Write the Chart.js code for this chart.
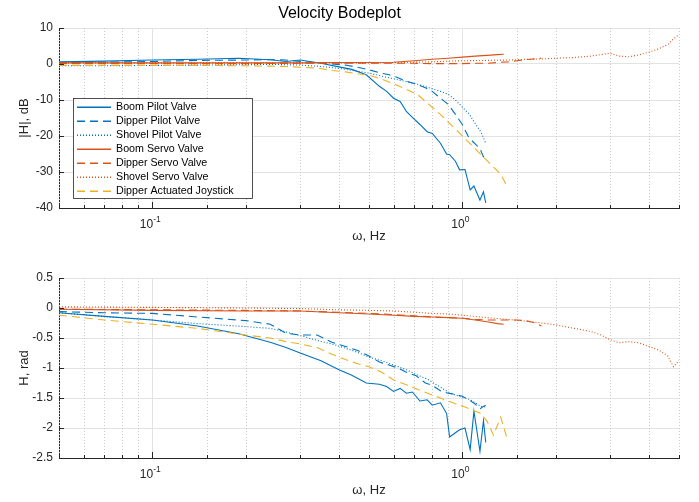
<!DOCTYPE html>
<html>
<head>
<meta charset="utf-8">
<script src="https://cdn.jsdelivr.net/npm/chart.js@4.4.1/dist/chart.umd.min.js"></script>
<style>
  body { margin: 0; background: #fff; }
  canvas { display: block; }
</style>
</head>
<body>
<canvas id="mag" width="699" height="250"></canvas>
<canvas id="phase" width="699" height="252"></canvas>
<script>
// ---- data (frequency in Hz, magnitude in dB, phase in rad) ----
const seriesLabels = ['Boom Pilot Valve', 'Dipper Pilot Valve', 'Shovel Pilot Valve',
  'Boom Servo Valve', 'Dipper Servo Valve', 'Shovel Servo Valve', 'Dipper Actuated Joystick'];

const boomPilotFreq = [0.05, 0.07, 0.1, 0.14, 0.19, 0.24, 0.27, 0.3, 0.35, 0.4, 0.44, 0.49, 0.54, 0.57, 0.6, 0.63, 0.66, 0.69, 0.73, 0.77, 0.8, 0.85, 0.89, 0.91, 0.95, 0.98, 1.02, 1.06, 1.09, 1.14, 1.17, 1.19];
const boomPilotMag = [0.6, 0.8, 1.1, 1.3, 1.6, 1.2, 0.7, 1.1, 0.2, -0.8, -1.5, -3.0, -6.2, -7.6, -9.5, -10.4, -13.2, -14.8, -16.8, -18.8, -19.3, -22.0, -25.0, -25.2, -27.0, -29.4, -29.3, -35.0, -33.9, -37.8, -35.5, -38.6];
const boomPilotPhase = [-0.08, -0.14, -0.2, -0.3, -0.43, -0.57, -0.66, -0.75, -0.88, -1.03, -1.12, -1.25, -1.27, -1.31, -1.39, -1.34, -1.42, -1.40, -1.55, -1.53, -1.62, -1.58, -1.76, -2.15, -2.08, -2.03, -2.0, -2.36, -1.72, -2.39, -1.88, -2.24];

const dipperPilotFreq = [0.05, 0.07, 0.1, 0.14, 0.2, 0.24, 0.27, 0.3, 0.34, 0.38, 0.42, 0.46, 0.5, 0.54, 0.58, 0.62, 0.66, 0.71, 0.76, 0.8, 0.85, 0.9, 0.95, 1.0, 1.05, 1.1, 1.14, 1.17, 1.19];
const dipperPilotMag = [0.4, 0.5, 0.7, 1.0, 1.1, 1.2, 1.1, 0.7, 0.3, 0.0, -0.3, -0.9, -1.6, -2.4, -3.0, -3.8, -4.8, -5.6, -6.6, -7.6, -9.5, -11.2, -14.0, -16.8, -20.5, -22.2, -23.5, -25.8, -25.3];
const dipperPilotPhase = [-0.06, -0.08, -0.09, -0.15, -0.21, -0.27, -0.42, -0.45, -0.45, -0.57, -0.64, -0.71, -0.8, -0.9, -0.95, -1.0, -1.07, -1.13, -1.25, -1.29, -1.38, -1.42, -1.44, -1.47, -1.53, -1.6, -1.68, -1.64, -1.62];

const shovelPilotFreq = [0.05, 0.07, 0.1, 0.14, 0.2, 0.24, 0.27, 0.3, 0.34, 0.38, 0.42, 0.46, 0.5, 0.55, 0.6, 0.66, 0.72, 0.78, 0.85, 0.9, 0.95, 1.0, 1.05, 1.1, 1.15, 1.19];
const shovelPilotMag = [-0.5, -0.5, -0.4, -0.3, -0.2, -0.1, -0.2, -0.3, -0.6, -1.0, -1.5, -2.0, -2.5, -3.4, -4.1, -4.9, -5.7, -6.6, -7.6, -8.4, -10.0, -12.0, -13.8, -16.5, -19.0, -22.0];
const shovelPilotPhase = [-0.08, -0.14, -0.2, -0.26, -0.31, -0.34, -0.4, -0.46, -0.54, -0.6, -0.67, -0.74, -0.82, -0.88, -0.95, -1.03, -1.12, -1.2, -1.32, -1.4, -1.45, -1.49, -1.52, -1.58, -1.64, -1.65];

const boomServoFreq = [0.05, 0.1, 0.2, 0.3, 0.4, 0.5, 0.6, 0.7, 0.8, 0.9, 1.0, 1.1, 1.2, 1.3, 1.36];
const boomServoMag = [0.3, 0.3, 0.3, 0.3, 0.4, 0.4, 0.5, 0.9, 1.3, 1.6, 1.9, 2.2, 2.4, 2.6, 2.7];
const boomServoPhase = [-0.02, -0.04, -0.05, -0.05, -0.08, -0.1, -0.12, -0.14, -0.15, -0.16, -0.17, -0.2, -0.23, -0.26, -0.27];

const dipperServoFreq = [0.05, 0.1, 0.2, 0.3, 0.4, 0.5, 0.6, 0.7, 0.8, 0.9, 1.0, 1.1, 1.2, 1.3, 1.4, 1.5, 1.6, 1.7, 1.8];
const dipperServoMag = [0.1, 0.1, 0.1, 0.2, 0.2, 0.2, 0.2, 0.2, 0.1, 0.1, 0.1, 0.2, 0.2, 0.4, 0.6, 0.9, 1.2, 1.4, 1.6];
const dipperServoPhase = [-0.02, -0.03, -0.04, -0.05, -0.07, -0.09, -0.11, -0.13, -0.15, -0.16, -0.17, -0.19, -0.2, -0.2, -0.2, -0.2, -0.21, -0.24, -0.3];

const shovelServoFreq = [0.05, 0.1, 0.2, 0.3, 0.4, 0.5, 0.6, 0.7, 0.8, 0.9, 1.0, 1.2, 1.4, 1.6, 1.8, 2.0, 2.3, 2.6, 2.8, 3.0, 3.2, 3.45, 3.7, 4.0, 4.3, 4.6, 4.8, 5.0];
const shovelServoMag = [0.3, 0.3, 0.3, 0.3, 0.3, 0.3, 0.4, 0.5, 0.6, 0.8, 0.9, 1.0, 1.1, 1.3, 1.4, 1.6, 1.8, 2.2, 2.6, 3.0, 2.2, 2.0, 2.5, 3.3, 4.2, 5.4, 7.0, 8.2];
const shovelServoPhase = [0.02, 0.01, 0.0, -0.01, -0.03, -0.04, -0.05, -0.07, -0.09, -0.1, -0.12, -0.16, -0.19, -0.22, -0.25, -0.28, -0.34, -0.39, -0.45, -0.53, -0.58, -0.56, -0.58, -0.64, -0.7, -0.8, -0.98, -0.87];

const joystickFreq = [0.05, 0.07, 0.1, 0.14, 0.2, 0.24, 0.27, 0.3, 0.34, 0.38, 0.42, 0.46, 0.5, 0.55, 0.6, 0.66, 0.72, 0.78, 0.85, 0.91, 0.97, 1.02, 1.08, 1.14, 1.2, 1.26, 1.33, 1.39];
const joystickMag = [-0.4, -0.4, -0.4, -0.4, -0.5, -0.6, -0.7, -0.9, -1.1, -1.8, -2.2, -2.7, -3.1, -4.2, -5.5, -7.0, -8.6, -11.2, -14.0, -16.5, -18.8, -20.8, -22.8, -24.9, -26.8, -28.6, -30.6, -33.8];
const joystickPhase = [-0.12, -0.2, -0.27, -0.34, -0.45, -0.5, -0.56, -0.6, -0.66, -0.77, -0.86, -0.93, -0.98, -1.07, -1.2, -1.28, -1.36, -1.43, -1.5, -1.56, -1.61, -1.65, -1.7, -1.75, -1.88, -2.12, -1.82, -2.15];

// axis ticks
const freqRange = [0.05, 5];
const magTicks = [10, 0, -10, -20, -30, -40];
const phaseTicks = [0.5, 0, -0.5, -1, -1.5, -2, -2.5];
const decadeTicks = [0.1, 1];
const decadeExponents = ['-1', '0'];

// ---- styling ----
const BLUE = '#0072BD', RED = '#D95319', YELLOW = '#EDB120';
const AXIS = '#262626', GRID = '#e3e3e3', MINOR = '#c9c9c9';
const FONT = "'Liberation Sans', Arial, Helvetica, sans-serif";
const DASH = [8, 5], DOT = [1, 2];
const seriesStyles = [
  {color: BLUE, dash: []}, {color: BLUE, dash: DASH}, {color: BLUE, dash: DOT},
  {color: RED, dash: []}, {color: RED, dash: DASH}, {color: RED, dash: DOT},
  {color: YELLOW, dash: DASH}
];

const freqs = [boomPilotFreq, dipperPilotFreq, shovelPilotFreq, boomServoFreq, dipperServoFreq, shovelServoFreq, joystickFreq];
const mags = [boomPilotMag, dipperPilotMag, shovelPilotMag, boomServoMag, dipperServoMag, shovelServoMag, joystickMag];
const phases = [boomPilotPhase, dipperPilotPhase, shovelPilotPhase, boomServoPhase, dipperServoPhase, shovelServoPhase, joystickPhase];

Chart.defaults.font.family = FONT;
Chart.defaults.color = AXIS;

function isDecade(v) {
  const l = Math.log10(v);
  return Math.abs(l - Math.round(l)) < 1e-6;
}

function buildDatasets(values) {
  return seriesLabels.map((label, i) => ({
    label: label,
    data: freqs[i].map((f, k) => ({x: f, y: values[i][k]})),
    borderColor: seriesStyles[i].color,
    borderDash: seriesStyles[i].dash,
    borderWidth: 1.1,
    pointRadius: 0,
    tension: 0,
    fill: false,
    order: seriesLabels.length - i
  }));
}

// MATLAB-like axes: dotted minor grid, inward ticks, 10^n labels
const matlabAxes = {
  id: 'matlabAxes',
  beforeDatasetsDraw(chart) {
    const {ctx, chartArea: a, scales: {x}} = chart;
    ctx.save();
    ctx.strokeStyle = MINOR;
    ctx.lineWidth = 1;
    ctx.setLineDash([1, 2]);
    x.ticks.forEach(t => {
      if (isDecade(t.value)) return;
      const px = Math.round(x.getPixelForValue(t.value)) + 0.5;
      ctx.beginPath();
      ctx.moveTo(px, a.top);
      ctx.lineTo(px, a.bottom);
      ctx.stroke();
    });
    ctx.restore();
  },
  afterDraw(chart) {
    const {ctx, chartArea: a, scales: {x, y}} = chart;
    ctx.save();
    ctx.strokeStyle = AXIS;
    ctx.lineWidth = 1;
    y.ticks.forEach(t => {
      const py = Math.round(y.getPixelForValue(t.value)) + 0.5;
      ctx.beginPath();
      ctx.moveTo(a.left, py);
      ctx.lineTo(a.left + 5, py);
      ctx.stroke();
    });
    x.ticks.forEach(t => {
      const px = Math.round(x.getPixelForValue(t.value)) + 0.5;
      const len = isDecade(t.value) ? 6 : 3;
      ctx.beginPath();
      ctx.moveTo(px, a.bottom);
      ctx.lineTo(px, a.bottom - len);
      ctx.stroke();
    });
    // decade labels with superscript exponent
    ctx.fillStyle = AXIS;
    ctx.textBaseline = 'alphabetic';
    decadeTicks.forEach((v, i) => {
      const px = x.getPixelForValue(v);
      ctx.font = '12px ' + FONT;
      const wb = ctx.measureText('10').width;
      ctx.font = '8.5px ' + FONT;
      const we = ctx.measureText(decadeExponents[i]).width;
      const left = px - 2 - (wb + we) / 2;
      ctx.font = '12px ' + FONT;
      ctx.fillText('10', left, a.bottom + 20);
      ctx.font = '8.5px ' + FONT;
      ctx.fillText(decadeExponents[i], left + wb, a.bottom + 14);
    });
    // legend (top chart only)
    if (chart.options.plugins.boxLegend && chart.options.plugins.boxLegend.show) {
      const lx = a.left + 14, ly = a.top + 70, lw = 179, lh = 100;
      ctx.fillStyle = '#fff';
      ctx.fillRect(lx, ly, lw, lh);
      ctx.strokeStyle = AXIS;
      ctx.lineWidth = 0.8;
      ctx.strokeRect(lx + 0.5, ly + 0.5, lw, lh);
      ctx.font = '10.7px ' + FONT;
      ctx.textBaseline = 'middle';
      seriesLabels.forEach((label, i) => {
        const cy = ly + 9.2 + 14 * i;
        ctx.strokeStyle = seriesStyles[i].color;
        ctx.lineWidth = 1.4;
        ctx.setLineDash(seriesStyles[i].dash);
        ctx.beginPath();
        ctx.moveTo(lx + 4, cy);
        ctx.lineTo(lx + 38, cy);
        ctx.stroke();
        ctx.setLineDash([]);
        ctx.fillStyle = '#000';
        ctx.fillText(label, lx + 43, cy);
      });
    }
    ctx.restore();
  }
};

function makeOptions(yTicks, yTitle, xTitlePad, extra) {
  const yStep = Math.abs(yTicks[0] - yTicks[1]);
  return {
    responsive: false,
    animation: false,
    devicePixelRatio: 1,
    layout: {padding: {left: 0, right: 20, top: extra.top, bottom: 0}},
    plugins: {
      legend: {display: false},
      tooltip: {enabled: false},
      title: extra.title,
      boxLegend: {show: extra.legend}
    },
    scales: {
      x: {
        type: 'logarithmic',
        min: freqRange[0],
        max: freqRange[1],
        afterFit: s => { s.height = extra.xHeight; },
        grid: {
          drawTicks: false,
          lineWidth: 1,
          color: c => (c.tick && isDecade(c.tick.value)) ? GRID : 'rgba(0,0,0,0)'
        },
        border: {display: true, color: AXIS, width: 1},
        ticks: {autoSkip: false, maxRotation: 0, callback: () => ''},
        title: {display: true, text: 'ω, Hz', font: {size: 13}, color: AXIS,
                padding: {top: 0, bottom: xTitlePad}}
      },
      y: {
        min: yTicks[yTicks.length - 1],
        max: yTicks[0],
        afterFit: s => { s.width = 59; },
        grid: {drawTicks: false, color: GRID, lineWidth: 1},
        border: {display: true, color: AXIS, width: 1},
        ticks: {stepSize: yStep, padding: 6, font: {size: 12}, color: AXIS,
                callback: v => String(+v.toFixed(2))},
        title: {display: true, text: yTitle, font: {size: 13}, color: AXIS,
                padding: {top: 17, bottom: 0}}
      }
    }
  };
}

new Chart(document.getElementById('mag'), {
  type: 'line',
  data: {datasets: buildDatasets(mags)},
  options: makeOptions(magTicks, '|H|, dB', 5.4, {
    top: 0, xHeight: 42, legend: true,
    title: {display: true, text: 'Velocity Bodeplot', color: '#000',
            font: {size: 16, weight: 'normal'}, padding: {top: 4.4, bottom: 4.4}}
  }),
  plugins: [matlabAxes]
});

new Chart(document.getElementById('phase'), {
  type: 'line',
  data: {datasets: buildDatasets(phases)},
  options: makeOptions(phaseTicks, 'H, rad', 3.4, {
    top: 28, xHeight: 44, legend: false, title: {display: false}
  }),
  plugins: [matlabAxes]
});
</script>
</body>
</html>
